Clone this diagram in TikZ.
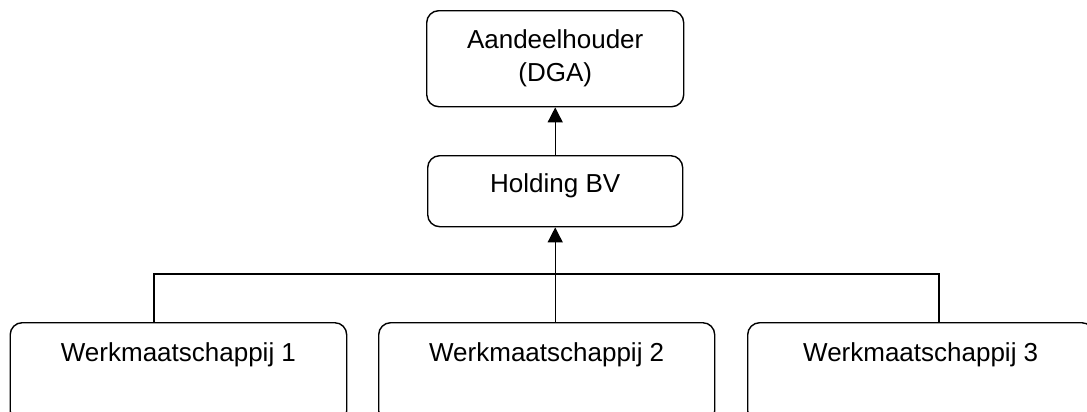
\documentclass[tikz,border=0pt]{standalone}
\usepackage{fontspec}
\setmainfont{Liberation Sans}
\usetikzlibrary{arrows.meta}

\begin{document}
\begin{tikzpicture}[x=0.5pt, y=-0.5pt,
  font=\fontsize{13}{16.5}\selectfont,
  orgbox/.style={draw, line width=0.7pt, rounded corners=6pt, inner sep=0pt,
                 align=center, anchor=north west},
  holdbox/.style={orgbox, text height=18.5pt, text depth=17pt},
  workbox/.style={orgbox, text height=19.5pt, text depth=30.5pt},
  link/.style={line width=0.7pt},
  up/.style={link, -{Triangle[width=7.5pt,length=7.5pt]}}]

\useasboundingbox (0,0) rectangle (1087,412);

% --- Owner and holding ---
\node[orgbox, minimum width=128.5pt, minimum height=48pt] (dga) at (426,10)
  {Aandeelhouder\\(DGA)};
\node[holdbox, minimum width=127.5pt] (holding) at (427,155) {Holding BV};

% --- Operating companies ---
\node[workbox, minimum width=168.25pt] (werk1) at (9.5,322) {Werkmaatschappij 1};
\node[workbox, minimum width=168pt]    (werk2) at (378,322) {Werkmaatschappij 2};
\node[workbox, minimum width=173pt]    (werk3) at (747,322) {Werkmaatschappij 3};

% --- Bus ends ---
\coordinate (bus1) at (154,274);
\coordinate (bus3) at (939,274);

% --- Connectors ---
\draw[up] (holding) -- (dga);
\draw[link] (bus1 |- werk1.north) -- (bus1) -- (bus3) -- (bus3 |- werk3.north);
\draw[up] (holding.south |- werk2.north) -- (holding.south);

\end{tikzpicture}
\end{document}
